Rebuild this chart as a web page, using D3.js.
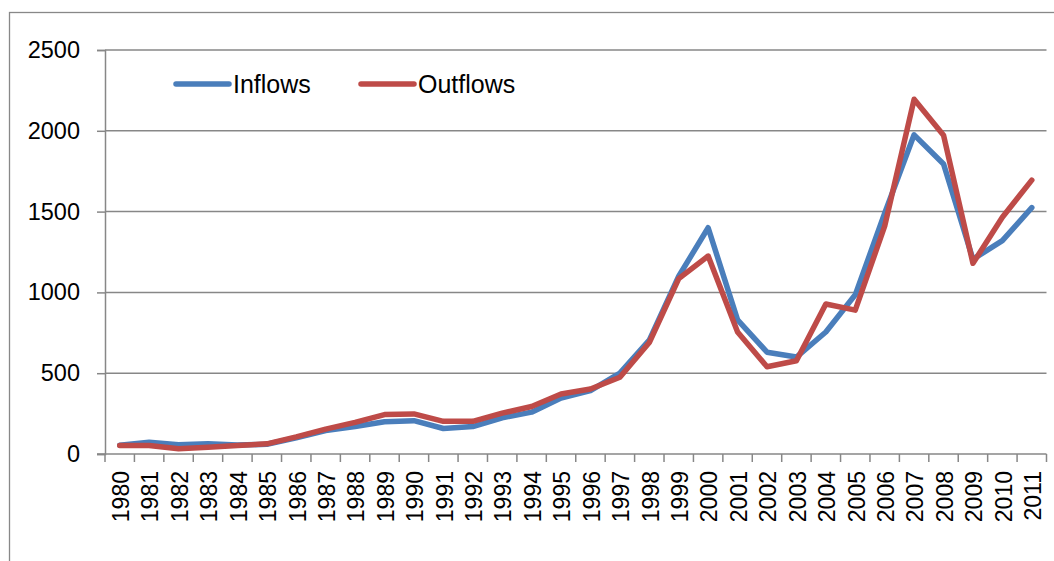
<!DOCTYPE html>
<html>
<head>
<meta charset="utf-8">
<script src="https://cdn.jsdelivr.net/npm/d3@7"></script>
<style>
  html, body { margin: 0; padding: 0; background: #fff; }
  svg text { font-family: "Liberation Sans", Arial, sans-serif; fill: #000; }
</style>
</head>
<body>
<svg id="chart" width="1054" height="561"></svg>
<script>
// Annual flows, 1980–2011
const years = [1980,1981,1982,1983,1984,1985,1986,1987,1988,1989,1990,1991,1992,1993,1994,1995,
               1996,1997,1998,1999,2000,2001,2002,2003,2004,2005,2006,2007,2008,2009,2010,2011];
const inflows = [55,73,57,63,55,60,100,145,170,200,206,158,170,224,259,346,
                 392,500,705,1100,1400,830,630,600,755,985,1490,1975,1795,1205,1320,1525];
const outflows = [53,53,32,42,53,63,106,154,196,244,248,202,202,253,294,371,
                  402,475,690,1085,1225,755,540,577,928,890,1410,2195,1973,1180,1465,1695];
const yTicks = [0,500,1000,1500,2000,2500];
const seriesNames = ["Inflows","Outflows"];
const seriesColors = ["#4a7ebb","#be4b48"];

const svg = d3.select("#chart");
const plot = { left: 105, right: 1046.5, top: 50, bottom: 454 };

// chart frame
svg.append("rect")
  .attr("x", 9.5).attr("y", 12.5)
  .attr("width", 1100).attr("height", 600)
  .attr("fill", "none").attr("stroke", "#888").attr("stroke-width", 1.3);

const x = d3.scaleBand().domain(years).range([plot.left, plot.right]).padding(0);
const y = d3.scaleLinear().domain([0, 2500]).range([plot.bottom, plot.top]);

// y axis with ticks
const yAxis = svg.append("g")
  .attr("transform", `translate(${plot.left},0)`)
  .call(d3.axisLeft(y).tickValues(yTicks).tickSize(8).tickPadding(17).tickFormat(d3.format("d")));
yAxis.select(".domain").attr("stroke", "#878787").attr("stroke-width", 1.5);
yAxis.selectAll(".tick line").attr("stroke", "#878787").attr("stroke-width", 1.5);
yAxis.selectAll(".tick text").style("font-size", "23.5px").attr("fill", "#000");

// horizontal gridlines
svg.append("g").selectAll("line")
  .data(yTicks.filter(d => d > 0))
  .join("line")
  .attr("x1", plot.left).attr("x2", plot.right)
  .attr("y1", d => y(d)).attr("y2", d => y(d))
  .attr("stroke", "#878787").attr("stroke-width", 1.5);

// x axis with ticks at category boundaries
const xAxisG = svg.append("g").attr("transform", `translate(0,${plot.bottom})`);
xAxisG.append("line")
  .attr("x1", plot.left - 8).attr("x2", plot.right)
  .attr("stroke", "#878787").attr("stroke-width", 1.5);
const bounds = years.map(d => x(d)).concat([x(years[years.length - 1]) + x.bandwidth()]);
xAxisG.selectAll("line.tk")
  .data(bounds)
  .join("line").attr("class", "tk")
  .attr("x1", d => d).attr("x2", d => d)
  .attr("y1", 0).attr("y2", 8)
  .attr("stroke", "#878787").attr("stroke-width", 1.5);
xAxisG.selectAll("text")
  .data(years)
  .join("text")
  .attr("transform", d => `translate(${x(d) + x.bandwidth() / 2 + 1},17) rotate(-90)`)
  .attr("text-anchor", "end")
  .attr("dy", "0.36em")
  .style("font-size", "23px")
  .text(d => d);

// series lines
const line = d3.line()
  .x((d, i) => x(years[i]) + x.bandwidth() / 2)
  .y(d => y(d));

[inflows, outflows].forEach((vals, k) => {
  svg.append("path")
    .datum(vals)
    .attr("d", line)
    .attr("fill", "none")
    .attr("stroke", seriesColors[k])
    .attr("stroke-width", 5.5)
    .attr("stroke-linejoin", "round")
    .attr("stroke-linecap", "round");
});

// legend
const legendX = [176, 361];
const legend = svg.append("g");
seriesNames.forEach((name, k) => {
  legend.append("line")
    .attr("x1", legendX[k]).attr("x2", legendX[k] + 53)
    .attr("y1", 84).attr("y2", 84)
    .attr("stroke", seriesColors[k]).attr("stroke-width", 5.5)
    .attr("stroke-linecap", "round");
  legend.append("text")
    .attr("x", legendX[k] + 57).attr("y", 84)
    .attr("dy", "0.36em")
    .style("font-size", "25px")
    .text(name);
});
</script>
</body>
</html>
